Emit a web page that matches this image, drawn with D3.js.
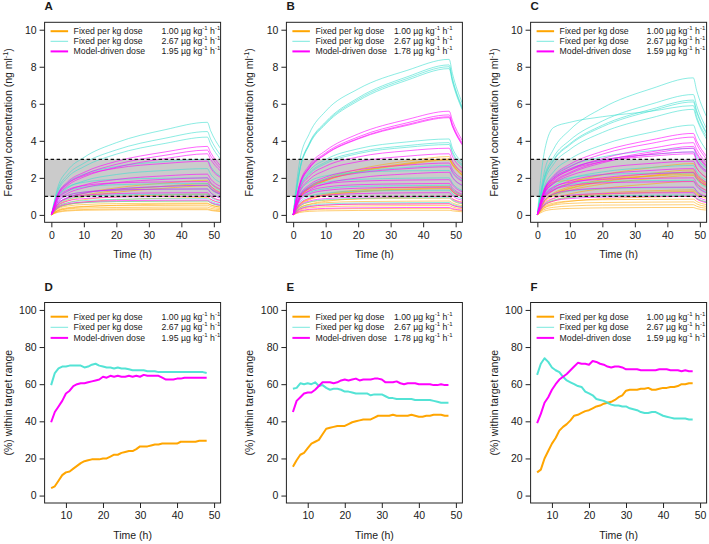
<!DOCTYPE html>
<html><head><meta charset="utf-8">
<script src="https://cdn.jsdelivr.net/npm/d3@7"></script>
<style>
body{margin:0;background:#fff}
svg{display:block}
text{font-family:"Liberation Sans",Arial,Helvetica,sans-serif;fill:#1a1a1a}
</style>
</head><body>
<svg id="chart" width="709" height="544"></svg>
<script>
// ---------------- DATA ----------------
// Concentration sampling times (h)
const concTimes = [0, 2, 5, 10, 20, 35, 48, 49, 52];

// Panel A
const concA_fixed100 = [
  [0,.56,.9,1.16,1.46,1.72,1.87,1.7,1.35],
  [0,.51,.81,1.05,1.32,1.55,1.69,1.54,1.22],
  [0,.47,.75,.97,1.22,1.44,1.57,1.43,1.13],
  [0,.43,.65,.82,.97,1.08,1.12,.99,.78],
  [0,.36,.55,.69,.82,.9,.94,.83,.66],
  [0,.38,.56,.66,.72,.74,.75,.65,.5],
  [0,.32,.48,.56,.61,.63,.64,.55,.42],
  [0,.26,.39,.46,.5,.51,.52,.45,.34],
  [0,.21,.32,.37,.4,.42,.42,.36,.28],
  [0,.17,.25,.29,.32,.33,.33,.28,.22],
  [0,.14,.21,.25,.27,.28,.28,.24,.18],
  [0,.23,.35,.44,.52,.58,.6,.53,.42]
];
const concA_fixed267 = [
  [0,1.5,2.4,3.1,3.9,4.6,5.0,4.55,3.6],
  [0,1.35,2.16,2.79,3.51,4.14,4.5,4.1,3.24],
  [0,1.26,2.02,2.6,3.28,3.86,4.2,3.82,3.02],
  [0,1.14,1.74,2.19,2.61,2.88,3.0,2.64,2.1],
  [0,.95,1.45,1.83,2.18,2.4,2.5,2.2,1.75],
  [0,1.0,1.5,1.76,1.92,1.98,2.0,1.72,1.32],
  [0,.85,1.28,1.5,1.63,1.68,1.7,1.46,1.12],
  [0,.7,1.05,1.23,1.34,1.39,1.4,1.2,.92],
  [0,.56,.84,.99,1.08,1.11,1.12,.96,.74],
  [0,.44,.66,.77,.84,.87,.88,.76,.58],
  [0,.38,.56,.66,.72,.74,.75,.65,.5],
  [0,.61,.93,1.17,1.39,1.54,1.6,1.41,1.12]
];
const concA_model = [
  [0,1.11,1.78,2.29,2.89,3.4,3.7,3.37,2.66],
  [0,1.05,1.68,2.17,2.73,3.22,3.5,3.19,2.52],
  [0,.99,1.58,2.05,2.57,3.04,3.3,3.0,2.38],
  [0,1.1,1.68,2.12,2.52,2.78,2.9,2.55,2.03],
  [0,.84,1.28,1.61,1.91,2.11,2.2,1.94,1.54],
  [0,.76,1.16,1.46,1.74,1.92,2.0,1.76,1.4],
  [0,.9,1.35,1.58,1.73,1.78,1.8,1.55,1.19],
  [0,.7,1.05,1.23,1.34,1.39,1.4,1.2,.92],
  [0,.6,.9,1.06,1.15,1.19,1.2,1.03,.79],
  [0,.5,.75,.88,.96,.99,1.0,.86,.66],
  [0,.4,.6,.7,.77,.79,.8,.69,.53],
  [0,.61,.93,1.17,1.39,1.54,1.6,1.41,1.12]
];

// Panel B
const concB_fixed100 = [
  [0,.95,1.51,1.95,2.46,2.9,3.15,2.87,2.27],
  [0,.91,1.45,1.88,2.36,2.79,3.03,2.76,2.18],
  [0,.9,1.44,1.85,2.33,2.75,2.99,2.72,2.15],
  [0,.89,1.42,1.84,2.31,2.72,2.96,2.69,2.13],
  [0,.59,.89,1.12,1.34,1.48,1.54,1.36,1.08],
  [0,.55,.85,1.07,1.27,1.4,1.46,1.28,1.02],
  [0,.54,.82,1.04,1.24,1.36,1.42,1.25,.99],
  [0,.38,.58,.73,.87,.96,1.0,.88,.7],
  [0,.45,.68,.79,.86,.89,.9,.77,.59],
  [0,.38,.56,.66,.72,.74,.75,.65,.5],
  [0,.3,.45,.53,.58,.59,.6,.52,.4],
  [0,.25,.38,.44,.48,.5,.5,.43,.33],
  [0,.18,.26,.31,.34,.35,.35,.3,.23],
  [0,.13,.19,.22,.24,.25,.25,.22,.17]
];
const concB_fixed267 = [
  [0,2.9,4.4,5.6,6.8,7.8,8.4,7.64,6.05],
  [0,2.43,3.89,5.02,6.32,7.45,8.1,7.37,5.83],
  [0,2.4,3.84,4.96,6.24,7.36,8.0,7.28,5.76],
  [0,2.37,3.79,4.9,6.16,7.27,7.9,7.19,5.69],
  [0,1.56,2.38,2.99,3.57,3.94,4.1,3.61,2.87],
  [0,1.48,2.26,2.85,3.39,3.74,3.9,3.43,2.73],
  [0,1.44,2.2,2.77,3.31,3.65,3.8,3.34,2.66],
  [0,1.01,1.55,1.95,2.32,2.56,2.67,2.35,1.87],
  [0,1.2,1.8,2.11,2.3,2.38,2.4,2.06,1.58],
  [0,1.0,1.5,1.76,1.92,1.98,2.0,1.72,1.32],
  [0,.8,1.2,1.41,1.54,1.58,1.6,1.38,1.06],
  [0,.67,1.0,1.17,1.28,1.32,1.33,1.14,.88],
  [0,.47,.7,.82,.89,.92,.93,.8,.61],
  [0,.34,.5,.59,.64,.66,.67,.58,.44]
];
const concB_model = [
  [0,1.68,2.69,3.47,4.37,5.15,5.6,5.1,4.03],
  [0,1.62,2.59,3.35,4.21,4.97,5.4,4.91,3.89],
  [0,1.59,2.54,3.29,4.13,4.88,5.3,4.82,3.82],
  [0,1.58,2.52,3.26,4.1,4.83,5.25,4.78,3.78],
  [0,1.37,2.09,2.63,3.13,3.46,3.6,3.17,2.52],
  [0,1.25,1.91,2.41,2.87,3.17,3.3,2.9,2.31],
  [0,1.06,1.62,2.04,2.44,2.69,2.8,2.46,1.96],
  [0,.99,1.51,1.9,2.26,2.5,2.6,2.29,1.82],
  [0,.87,1.33,1.68,2.0,2.21,2.3,2.02,1.61],
  [0,.95,1.43,1.67,1.82,1.88,1.9,1.63,1.25],
  [0,.85,1.28,1.5,1.63,1.68,1.7,1.46,1.12],
  [0,.75,1.13,1.32,1.44,1.49,1.5,1.29,.99],
  [0,.6,.9,1.06,1.15,1.19,1.2,1.03,.79],
  [0,.5,.75,.88,.96,.99,1.0,.86,.66],
  [0,.3,.45,.53,.58,.59,.6,.52,.4],
  [0,.2,.3,.35,.38,.4,.4,.34,.26]
];

// Panel C
const concC_fixed100 = [
  [0,.83,1.33,1.72,2.16,2.55,2.77,2.52,1.99],
  [0,.73,1.17,1.51,1.9,2.24,2.43,2.21,1.75],
  [0,.7,1.11,1.44,1.81,2.13,2.32,2.11,1.67],
  [0,.68,1.09,1.41,1.78,2.1,2.28,2.07,1.64],
  [0,1.21,1.76,1.87,1.98,2.09,2.2,1.98,1.58],
  [0,.64,1.02,1.32,1.66,1.96,2.13,1.94,1.53],
  [0,.55,.87,1.13,1.42,1.67,1.82,1.66,1.31],
  [0,.51,.78,.99,1.17,1.3,1.35,1.19,.95],
  [0,.48,.74,.93,1.1,1.22,1.27,1.12,.89],
  [0,.38,.58,.73,.87,.96,1.0,.88,.7],
  [0,.43,.64,.75,.82,.84,.85,.73,.56],
  [0,.35,.53,.62,.67,.69,.7,.6,.46],
  [0,.28,.41,.48,.53,.54,.55,.47,.36],
  [0,.2,.3,.35,.38,.4,.4,.34,.26]
];
const concC_fixed267 = [
  [0,2.22,3.55,4.59,5.77,6.81,7.4,6.73,5.33],
  [0,1.95,3.12,4.03,5.07,5.98,6.5,5.92,4.68],
  [0,1.86,2.98,3.84,4.84,5.7,6.2,5.64,4.46],
  [0,1.83,2.93,3.78,4.76,5.61,6.1,5.55,4.39],
  [0,3.25,4.72,5.0,5.3,5.6,5.9,5.31,4.25],
  [0,1.71,2.74,3.53,4.45,5.24,5.7,5.19,4.1],
  [0,1.46,2.33,3.01,3.78,4.46,4.85,4.41,3.49],
  [0,1.37,2.09,2.63,3.13,3.46,3.6,3.17,2.52],
  [0,1.29,1.97,2.48,2.96,3.26,3.4,2.99,2.38],
  [0,1.01,1.55,1.95,2.32,2.56,2.67,2.35,1.87],
  [0,1.14,1.7,2.0,2.18,2.25,2.27,1.95,1.5],
  [0,.94,1.4,1.65,1.8,1.85,1.87,1.61,1.23],
  [0,.74,1.1,1.29,1.41,1.46,1.47,1.26,.97],
  [0,.54,.8,.94,1.03,1.06,1.07,.92,.71]
];
const concC_model = [
  [0,1.32,2.11,2.73,3.43,4.05,4.4,4.0,3.17],
  [0,1.26,2.02,2.6,3.28,3.86,4.2,3.82,3.02],
  [0,1.17,1.87,2.42,3.04,3.59,3.9,3.55,2.81],
  [0,1.11,1.78,2.29,2.89,3.4,3.7,3.37,2.66],
  [0,1.08,1.73,2.23,2.81,3.31,3.6,3.28,2.59],
  [0,1.29,1.97,2.48,2.96,3.26,3.4,2.99,2.38],
  [0,1.25,1.91,2.41,2.87,3.17,3.3,2.9,2.31],
  [0,1.1,1.68,2.12,2.52,2.78,2.9,2.55,2.03],
  [0,.95,1.45,1.83,2.18,2.4,2.5,2.2,1.75],
  [0,.87,1.33,1.68,2.0,2.21,2.3,2.02,1.61],
  [0,1.0,1.5,1.76,1.92,1.98,2.0,1.72,1.32],
  [0,.9,1.35,1.58,1.73,1.78,1.8,1.55,1.19],
  [0,.75,1.13,1.32,1.44,1.49,1.5,1.29,.99],
  [0,.6,.9,1.06,1.15,1.19,1.2,1.03,.79],
  [0,.5,.75,.88,.96,.99,1.0,.86,.66]
];

// Percentage within target range, hourly from 6 h to 48 h
const pctTimes = [6,7,8,9,10,11,12,13,14,15,16,17,18,19,20,21,22,23,24,25,26,27,28,29,30,31,32,33,34,35,36,37,38,39,40,41,42,43,44,45,46,47,48];

const pctD_fixed100 = [4,5,8,11,12.5,13,14.5,16,17.5,18.5,19,19.5,19.5,19.5,20,20,21,22,22,23,23.5,24,24,25,26.5,26.5,26.5,27,27.5,27.5,28,28,28,28,28,29,29,29,29,29,29.5,29.5,29.5];
const pctD_fixed267 = [59.5,66,68.5,69.5,69.5,70,70,70,70,69,69.5,70.5,71,70,69.5,69,69,68.5,69,68.5,68.5,68,67.5,67.5,67.5,67.5,67,67,67,66.5,66.5,66.5,66.5,66.5,66.5,66.5,66.5,66.5,66.5,66.5,66.5,66.5,66];
const pctD_model = [39.5,45,48,51,55,56.5,59,60,60.5,60.5,61,61.5,62,62.5,64,63.5,64.5,64,64.5,64,64,64.5,64,64.5,64,65,64.5,64.5,64.5,64.5,63.5,62.5,62.5,62.5,63,63,63.5,63.5,63.5,63.5,63.5,63.5,63.5];

const pctE_fixed100 = [15.5,19,22,23,25.5,28,29,30,33,36,36.5,37,37.5,37.5,37.5,38.5,39.5,40,40.5,41,41,41,42,43,43,43,43,43.5,43,43,43,43,43.5,43,42.5,42.5,43,43,43.5,43.5,43.5,43,43];
const pctE_fixed267 = [57.5,58,60.5,60,60.5,60,61,59,59.5,58,57,57.5,57.5,57,56,56,55.5,55,55,55,55,54,54.5,54.5,54.5,53.5,52.5,52.5,52,52,52,52,52,51.5,51.5,51.5,51.5,51.5,51,50.5,50,50,50];
const pctE_model = [45,51,53,55,55.5,55.5,57,59,61,61,61,60.5,61,62,62.5,62,62.5,63,62,62.5,62.5,62.5,63,63,62.5,61,61,61,61.5,60.5,60,60.5,60.5,60.5,60,60,60,60,59.5,59.5,60,59.5,59.5];

const pctF_fixed100 = [12.5,14,20,24,28,31,35,37,38.5,40.5,43,43.5,44.5,45.5,46,47,48,48.5,49.5,50,50.5,51.5,53,54,56.5,57,57,57,57.5,57.5,58,57,57,57.5,58,58,58.5,58.5,59,60,60,60.5,60.5];
const pctF_fixed267 = [65,71,74,72,69,67.5,66.5,64,62,61,60,59,58.5,56,55,54,52,51.5,51,50,49,48.5,48.5,48,48,47,46.5,46,45,44.5,44.5,45,45,44,43,42.5,42,41.5,41.5,41.5,41.5,41,41];
const pctF_model = [39,44,50,53,57,60,62.5,64,65.5,67.5,69.5,71.5,71,71,70.5,72.5,72,71,70.5,69.5,69,69.5,69.5,69,68,68,68,68,67.5,67.5,67.5,67.5,67.5,68,68,68,67.5,67.5,67.5,67,67.5,67,67];

// Labels / legend
const panelLetters = ["A","B","C","D","E","F"];
const legendNames = ["Fixed per kg dose","Fixed per kg dose","Model-driven dose"];
const legendDosesA = ["1.00","2.67","1.95"];
const legendDosesB = ["1.00","2.67","1.78"];
const legendDosesC = ["1.00","2.67","1.59"];
const targetRange = [1, 3];
const concTicks = [0,2,4,6,8,10];
const timeTicksTop = [0,10,20,30,40,50];
const pctTicks = [0,20,40,60,80,100];
const timeTicksBottom = [10,20,30,40,50];

// ---------------- STYLE / LAYOUT ----------------
const colors = ["#FFA500", "#40E0D0", "#FF00FF"];
const colLeft = [44.6, 286.4, 530.6];
const boxW = 176;
const topRow = {y0: 22.3, y1: 222.3};
const botRow = {y0: 302.5, y1: 503};
const doseOffset = [117, 107.5, 116];

const svg = d3.select("#chart");
const defs = svg.append("defs");

function doseText(sel, x, y, dose) {
  const t = sel.append("text").attr("x", x).attr("y", y)
    .attr("font-size", 8.7).attr("dominant-baseline", "central");
  t.append("tspan").text(dose + " \u00b5g kg");
  t.append("tspan").attr("font-size", 6).attr("dy", -3).text("-1");
  t.append("tspan").attr("dy", 3).text(" h");
  t.append("tspan").attr("font-size", 6).attr("dy", -3).text("-1");
}

function legend(g, box, doses, col, rows) {
  rows.forEach((ry, i) => {
    const y = box.y0 + ry;
    g.append("line")
      .attr("x1", box.x0 + 6).attr("x2", box.x0 + 23.5)
      .attr("y1", y).attr("y2", y)
      .attr("stroke", colors[i])
      .attr("stroke-width", i === 1 ? 1 : 2)
      .attr("stroke-opacity", i === 1 ? 0.7 : 1);
    g.append("text").attr("x", box.x0 + 29).attr("y", y)
      .attr("font-size", 8.7).attr("dominant-baseline", "central")
      .text(legendNames[i]);
    doseText(g, box.x0 + doseOffset[col], y, doses[i]);
  });
}

function frame(g, box, letter, x, y, xTicks, yTicks, ylabelParts) {
  // axes
  const xa = g.append("g").attr("transform", `translate(0,${box.y1})`)
    .call(d3.axisBottom(x).tickValues(xTicks).tickSize(5).tickPadding(4).tickFormat(d3.format("d")));
  const ya = g.append("g").attr("transform", `translate(${box.x0},0)`)
    .call(d3.axisLeft(y).tickValues(yTicks).tickSize(5).tickPadding(3).tickFormat(d3.format("d")));
  [xa, ya].forEach(a => {
    a.select(".domain").remove();
    a.selectAll("line").attr("stroke", "#222");
    a.selectAll("text").attr("font-size", 10.5).attr("fill", "#1a1a1a")
      .attr("font-family", "Liberation Sans, Arial, sans-serif");
  });
  // box
  g.append("rect").attr("x", box.x0).attr("y", box.y0)
    .attr("width", box.x1 - box.x0).attr("height", box.y1 - box.y0)
    .attr("fill", "none").attr("stroke", "#222").attr("stroke-width", 1);
  // x label
  g.append("text").attr("x", (box.x0 + box.x1) / 2).attr("y", box.y1 + 36)
    .attr("text-anchor", "middle").attr("font-size", 10.5).text("Time (h)");
  // y label
  const cy = (box.y0 + box.y1) / 2, cx = box.x0 - 33;
  const yl = g.append("text").attr("transform", `translate(${cx},${cy}) rotate(-90)`)
    .attr("text-anchor", "middle").attr("font-size", 10.5);
  ylabelParts.forEach(p => {
    const ts = yl.append("tspan").text(p.t);
    if (p.sup) ts.attr("font-size", 7.3).attr("dy", -4);
    if (p.after) ts.attr("dy", 4);
  });
  // panel letter
  g.append("text").attr("x", box.x0).attr("y", box.y0 - 12)
    .attr("font-size", 11.5).attr("font-weight", "bold").text(letter);
}

const concLabel = [{t:"Fentanyl concentration (ng ml"},{t:"-1",sup:true},{t:")",after:true}];
const pctLabel = [{t:"(%) within target range"}];

const concSets = [
  [concA_fixed100, concA_fixed267, concA_model],
  [concB_fixed100, concB_fixed267, concB_model],
  [concC_fixed100, concC_fixed267, concC_model]
];
const concDoses = [legendDosesA, legendDosesB, legendDosesC];
const pctSets = [
  [pctD_fixed100, pctD_fixed267, pctD_model],
  [pctE_fixed100, pctE_fixed267, pctE_model],
  [pctF_fixed100, pctF_fixed267, pctF_model]
];

// Top panels
concSets.forEach((sets, c) => {
  const box = {x0: colLeft[c], x1: colLeft[c] + boxW, y0: topRow.y0, y1: topRow.y1};
  const x = d3.scaleLinear().domain([-2.08, 52.08]).range([box.x0, box.x1]);
  const y = d3.scaleLinear().domain([-0.4, 10.4]).range([box.y1, box.y0]);
  const g = svg.append("g");
  const cid = "clipTop" + c;
  defs.append("clipPath").attr("id", cid).append("rect")
    .attr("x", box.x0).attr("y", box.y0).attr("width", box.x1 - box.x0).attr("height", box.y1 - box.y0);
  const pg = g.append("g").attr("clip-path", `url(#${cid})`);
  pg.append("rect").attr("x", box.x0).attr("width", box.x1 - box.x0)
    .attr("y", y(targetRange[1])).attr("height", y(targetRange[0]) - y(targetRange[1]))
    .attr("fill", "#cbcbcb");
  const line = d3.line().x((d, i) => x(concTimes[i])).y(d => y(d)).curve(d3.curveMonotoneX);
  const opac = [0.55, 0.6, 0.6];
  sets.forEach((grp, k) => {
    pg.append("g").selectAll("path").data(grp).join("path")
      .attr("d", line).attr("fill", "none")
      .attr("stroke", colors[k]).attr("stroke-width", 1).attr("stroke-opacity", opac[k]);
  });
  targetRange.forEach(v => {
    pg.append("line").attr("x1", box.x0).attr("x2", box.x1)
      .attr("y1", y(v)).attr("y2", y(v))
      .attr("stroke", "#111").attr("stroke-width", 1.3).attr("stroke-dasharray", "3.5,2.5");
  });
  legend(g, box, concDoses[c], c, [8.9, 19, 29.1]);
  frame(g, box, panelLetters[c], x, y, timeTicksTop, concTicks, concLabel);
});

// Bottom panels
pctSets.forEach((sets, c) => {
  const box = {x0: colLeft[c], x1: colLeft[c] + boxW, y0: botRow.y0, y1: botRow.y1};
  const x = d3.scaleLinear().domain([4.24, 51.76]).range([box.x0, box.x1]);
  const y = d3.scaleLinear().domain([-4, 104]).range([box.y1, box.y0]);
  const g = svg.append("g");
  const line = d3.line().x((d, i) => x(pctTimes[i])).y(d => y(d));
  sets.forEach((vals, k) => {
    g.append("path").datum(vals).attr("d", line).attr("fill", "none")
      .attr("stroke", colors[k]).attr("stroke-width", 2)
      .attr("stroke-linejoin", "round").attr("stroke-opacity", k === 1 ? 0.9 : 1);
  });
  legend(g, box, concDoses[c], c, [14.2, 24.8, 35.4]);
  frame(g, box, panelLetters[c + 3], x, y, timeTicksBottom, pctTicks, pctLabel);
});
</script>
</body></html>
